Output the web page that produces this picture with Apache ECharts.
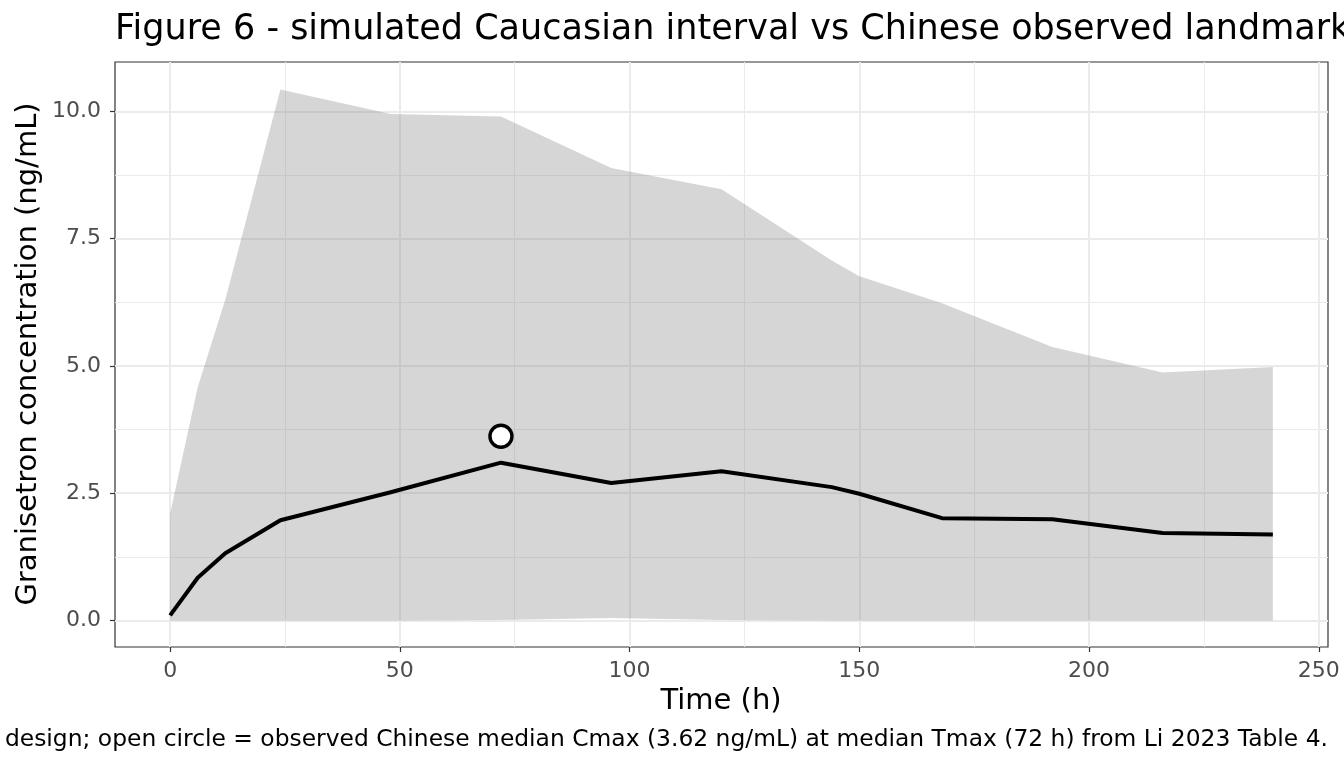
<!DOCTYPE html>
<html>
<head>
<meta charset="utf-8">
<script src="https://cdn.jsdelivr.net/npm/echarts@6/dist/echarts.min.js"></script>
<style>
  html, body { margin: 0; padding: 0; background: #fff; }
  #chart { width: 1344px; height: 768px; }
</style>
</head>
<body>
<div id="chart"></div>
<script>
// simulated Caucasian interval (time in h, conc in ng/mL)
var timeH   = [0, 6, 12, 24, 48, 72, 96, 120, 144, 150, 168, 192, 216, 240];
var median  = [0.10, 0.84, 1.32, 1.97, 2.52, 3.10, 2.70, 2.93, 2.62, 2.49, 2.01, 1.99, 1.72, 1.69];
var lower   = [0, 0, 0, 0, 0, 0.01, 0.05, 0.01, 0, 0, 0, 0, 0, 0];
var upper   = [2.10, 4.58, 6.30, 10.43, 9.95, 9.90, 8.89, 8.47, 7.07, 6.76, 6.23, 5.37, 4.87, 4.98];

// observed Chinese landmark
var obsTmax = 72;
var obsCmax = 3.62;

// axis ticks and grid
var xTicks = [0, 50, 100, 150, 200, 250];
var xMinor = [25, 75, 125, 175, 225];
var yTicks = [0, 2.5, 5, 7.5, 10];
var yMinor = [1.25, 3.75, 6.25, 8.75];

var titleText = 'Figure 6 - simulated Caucasian interval vs Chinese observed landmark';
var captionText = 'design; open circle = observed Chinese median Cmax (3.62 ng/mL) at median Tmax (72 h) from Li 2023 Table 4.';

var FONT = 'DejaVu Sans';
var dom = document.getElementById('chart');
var myChart = echarts.init(dom, null, { renderer: 'canvas' });

function gridLines(vals, key, width) {
  return vals.map(function (v) {
    var d = {};
    d[key] = v;
    d.lineStyle = { color: '#ebebeb', width: width, type: 'solid' };
    return d;
  });
}

var gridData = []
  .concat(gridLines(xMinor, 'xAxis', 1))
  .concat(gridLines(yMinor, 'yAxis', 1))
  .concat(gridLines(xTicks, 'xAxis', 2))
  .concat(gridLines(yTicks, 'yAxis', 2));

var option = {
  backgroundColor: '#ffffff',
  animation: false,
  grid: {
    left: 115, right: 16, top: 62, bottom: 121,
    show: true, borderColor: '#333333', borderWidth: 1.2,
    backgroundColor: 'transparent'
  },
  xAxis: {
    type: 'value', min: -12, max: 252,
    axisLine: { show: false, onZero: false },
    splitLine: { show: false },
    axisTick: { show: true, customValues: xTicks, length: 5, lineStyle: { color: '#333333', width: 1.2 } },
    axisLabel: {
      customValues: xTicks, margin: 13,
      color: '#4d4d4d', fontSize: 22, fontFamily: FONT,
      formatter: function (v) { return String(v); }
    }
  },
  yAxis: {
    type: 'value', min: -0.52, max: 10.97,
    axisLine: { show: false, onZero: false },
    splitLine: { show: false },
    axisTick: { show: true, customValues: yTicks, length: 5, lineStyle: { color: '#333333', width: 1.2 } },
    axisLabel: {
      customValues: yTicks, margin: 14,
      color: '#4d4d4d', fontSize: 22, fontFamily: FONT,
      formatter: function (v) { return v.toFixed(1); }
    }
  },
  graphic: [
    { type: 'text', x: 115, y: 30,
      style: { text: titleText, font: '35px "DejaVu Sans"', fill: '#000', verticalAlign: 'middle' } },
    { type: 'text', x: 721, y: 701,
      style: { text: 'Time (h)', font: '29px "DejaVu Sans"', fill: '#000', align: 'center', verticalAlign: 'middle' } },
    { type: 'text', x: 28, y: 354, rotation: Math.PI / 2,
      style: { text: 'Granisetron concentration (ng/mL)', font: '29px "DejaVu Sans"', fill: '#000', align: 'center', verticalAlign: 'middle' } },
    { type: 'text', x: 1328, y: 740,
      style: { text: captionText, font: '23.4px "DejaVu Sans"', fill: '#000', align: 'right', verticalAlign: 'middle' } }
  ],
  series: [
    {
      name: 'grid', type: 'line', data: [], silent: true,
      markLine: {
        silent: true, symbol: 'none', z: 1, animation: false,
        label: { show: false },
        data: gridData
      }
    },
    {
      name: 'interval', type: 'custom', z: 2, silent: true,
      data: timeH.map(function (t, i) { return [t, lower[i], upper[i]]; }),
      encode: { x: 0, y: [1, 2] },
      renderItem: function (params, api) {
        if (params.dataIndex !== 0) return;
        var pts = [];
        for (var i = 0; i < timeH.length; i++) pts.push(api.coord([timeH[i], upper[i]]));
        for (var j = timeH.length - 1; j >= 0; j--) pts.push(api.coord([timeH[j], lower[j]]));
        return { type: 'polygon', shape: { points: pts }, style: { fill: 'rgba(127,127,127,0.32)' } };
      }
    },
    {
      name: 'median', type: 'line', z: 3, symbol: 'none',
      data: timeH.map(function (t, i) { return [t, median[i]]; }),
      lineStyle: { color: '#000000', width: 4, join: 'round' }
    },
    {
      name: 'observed', type: 'scatter', z: 4,
      data: [[obsTmax, obsCmax]],
      symbol: 'circle', symbolSize: 22,
      itemStyle: { color: '#ffffff', borderColor: '#000000', borderWidth: 3.4, opacity: 1 }
    }
  ]
};

myChart.setOption(option);
</script>
</body>
</html>
